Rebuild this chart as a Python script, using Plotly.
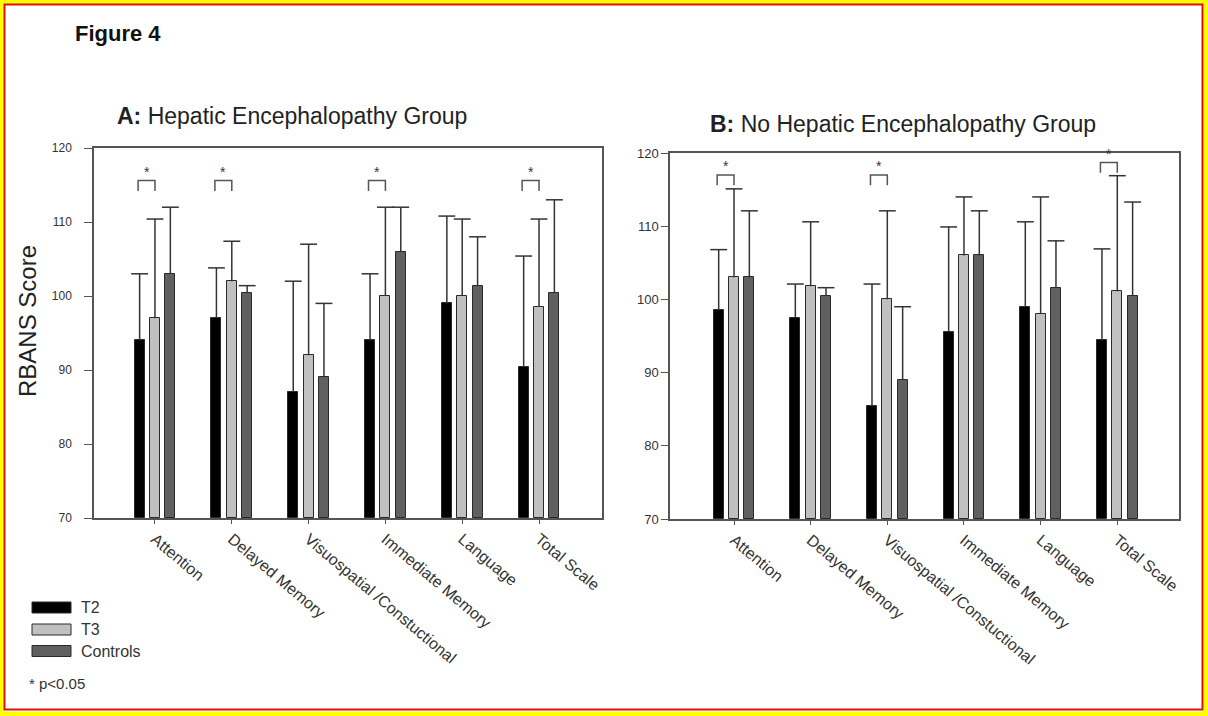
import plotly.graph_objects as go

W, H = 1208, 716

categories = ["Attention", "Delayed Memory", "Visuospatial /Constuctional",
              "Immediate Memory", "Language", "Total Scale"]
series_names = ["T2", "T3", "Controls"]
series_colors = ["#000000", "#c0c0c0", "#606060"]
y_ticks = [70, 80, 90, 100, 110, 120]

# Panel A: Hepatic Encephalopathy group (means and upper SD)
a_t2 = [94, 97, 87, 94, 99, 90.4]
a_t2_sd = [9, 6.8, 15, 9, 11.8, 15.0]
a_t3 = [97, 102, 92, 100, 100, 98.5]
a_t3_sd = [13.4, 5.4, 15, 12, 10.4, 11.9]
a_ctl = [103, 100.4, 89, 106, 101.4, 100.4]
a_ctl_sd = [9, 1, 10, 6, 6.6, 12.6]

# Panel B: No Hepatic Encephalopathy group
b_t2 = [98.5, 97.5, 85.4, 95.6, 99, 94.4]
b_t2_sd = [8.3, 4.6, 16.7, 14.3, 11.6, 12.5]
b_t3 = [103, 101.8, 100, 106, 98, 101.1]
b_t3_sd = [12.1, 8.8, 12.1, 8, 16, 15.8]
b_ctl = [103, 100.5, 89, 106, 101.6, 100.5]
b_ctl_sd = [9.1, 1.1, 10, 6.1, 6.4, 12.8]

# significance brackets (T2 vs T3): category index and bracket level
a_sig = [0, 1, 3, 5]
a_sig_level = [115.6, 115.6, 115.6, 115.6]
b_sig = [0, 2, 5]
b_sig_level = [117.0, 117.0, 118.7]

offsets = [-0.2, 0.0, 0.2]
bar_w = 0.13
cap_hw = 0.11


def px(x):
    return x / W


def py(y):
    return 1 - y / H


fig = go.Figure()

panels = [
    ("x", "y", [a_t2, a_t3, a_ctl], [a_t2_sd, a_t3_sd, a_ctl_sd], a_sig, a_sig_level),
    ("x2", "y2", [b_t2, b_t3, b_ctl], [b_t2_sd, b_t3_sd, b_ctl_sd], b_sig, b_sig_level),
]

shapes = []
annotations = []

for xa, ya, means, sds, sig, sig_lv in panels:
    # upper-only error whiskers
    for k in range(3):
        ex, ey = [], []
        for i in range(len(categories)):
            xc = i + offsets[k]
            top = means[k][i] + sds[k][i]
            ex += [xc, xc, None, xc - cap_hw, xc + cap_hw, None]
            ey += [means[k][i], top, None, top, top, None]
        fig.add_trace(go.Scatter(x=ex, y=ey, mode="lines", xaxis=xa, yaxis=ya,
                                 line=dict(color="#333333", width=1.5),
                                 showlegend=False, hoverinfo="skip"))
    for k in range(3):
        fig.add_trace(go.Bar(
            x=[i + offsets[k] for i in range(len(categories))],
            y=[m - 70 for m in means[k]], base=70,
            width=bar_w, xaxis=xa, yaxis=ya, name=series_names[k],
            marker=dict(color=series_colors[k], line=dict(color="#2a2a2a", width=1)),
            showlegend=False))
    # significance brackets
    for i, lv in zip(sig, sig_lv):
        x0 = i + offsets[0] - 0.02
        x1 = i + offsets[1]
        fig.add_trace(go.Scatter(x=[x0, x0, x1, x1], y=[lv - 1.4, lv, lv, lv - 1.4],
                                 mode="lines", xaxis=xa, yaxis=ya,
                                 line=dict(color="#555555", width=1.5),
                                 showlegend=False, hoverinfo="skip"))
        annotations.append(dict(x=(x0 + x1) / 2, y=lv + 1.2, xref=xa, yref=ya,
                                text="*", showarrow=False,
                                font=dict(size=14, color="#333333")))

axis_common = dict(showgrid=False, zeroline=False, showline=True, linecolor="#555555",
                   linewidth=1.5, mirror=True, automargin=False)

fig.update_layout(
    width=W, height=H, template="none",
    margin=dict(l=0, r=0, t=0, b=0),
    paper_bgcolor="white", plot_bgcolor="white",
    font=dict(family="Liberation Sans, Arial, sans-serif", color="#333333"),
    showlegend=False,
    xaxis=dict(domain=[px(94), px(602)], range=[-0.794, 5.82],
               tickvals=list(range(len(categories))), ticktext=categories,
               tickangle=40, ticks="outside", ticklen=4, tickcolor="#555555",
               tickfont=dict(size=16, color="#333333"), **axis_common),
    yaxis=dict(domain=[py(518), py(148)], range=[70, 120], tickvals=y_ticks,
               ticks="outside", ticklen=8, tickcolor="#555555", ticklabelstandoff=10,
               tickfont=dict(size=12, color="#333333"), **axis_common),
    xaxis2=dict(domain=[px(670), px(1179)], range=[-0.835, 5.805], anchor="y2",
                tickvals=list(range(len(categories))), ticktext=categories,
                tickangle=40, ticks="outside", ticklen=4, tickcolor="#555555",
                tickfont=dict(size=16, color="#333333"), **axis_common),
    yaxis2=dict(domain=[py(519), py(153)], range=[70, 120], tickvals=y_ticks, anchor="x2",
                ticks="outside", ticklen=7, tickcolor="#555555",
                tickfont=dict(size=13, color="#333333"), **axis_common),
    bargap=0,
)

# titles
annotations += [
    dict(x=px(73), y=py(34), xref="paper", yref="paper", xanchor="left", yanchor="middle",
         text="<b>Figure 4</b>", showarrow=False, font=dict(size=22, color="#111111")),
    dict(x=px(115), y=py(116), xref="paper", yref="paper", xanchor="left", yanchor="middle",
         text="<b>A:</b> Hepatic Encephalopathy Group", showarrow=False,
         font=dict(size=23, color="#222222")),
    dict(x=px(708), y=py(124), xref="paper", yref="paper", xanchor="left", yanchor="middle",
         text="<b>B:</b> No Hepatic Encephalopathy Group", showarrow=False,
         font=dict(size=23, color="#222222")),
    dict(x=px(27), y=py(321), xref="paper", yref="paper", xanchor="center", yanchor="middle",
         text="RBANS Score", textangle=-90, showarrow=False,
         font=dict(size=24, color="#222222")),
]

# custom legend
leg_rows = [607.5, 629.5, 651]
for k, yc in enumerate(leg_rows):
    shapes.append(dict(type="rect", xref="paper", yref="paper",
                       x0=px(32), x1=px(71), y0=py(yc - 5.5), y1=py(yc + 5.5),
                       fillcolor=series_colors[k], line=dict(color="#2a2a2a", width=1)))
    annotations.append(dict(x=px(79), y=py(yc), xref="paper", yref="paper",
                            xanchor="left", yanchor="middle", text=series_names[k],
                            showarrow=False, font=dict(size=16, color="#333333")))
annotations.append(dict(x=px(27), y=py(683), xref="paper", yref="paper",
                        xanchor="left", yanchor="middle", text="* p<0.05",
                        showarrow=False, font=dict(size=15, color="#333333")))

# outer frame (yellow band + red line)
shapes.append(dict(type="rect", xref="paper", yref="paper", x0=0, x1=1, y0=0, y1=1,
                   line=dict(color="#ffff00", width=9), layer="above"))
shapes.append(dict(type="rect", xref="paper", yref="paper",
                   x0=px(4.5), x1=px(1202.5), y0=py(709.5), y1=py(4.5),
                   line=dict(color="#dd1111", width=2), layer="above"))

fig.update_layout(shapes=shapes, annotations=annotations)
fig.write_html("out.html", config={"displayModeBar": False},
               post_script="document.body.style.margin='0';document.body.style.padding='0';")
